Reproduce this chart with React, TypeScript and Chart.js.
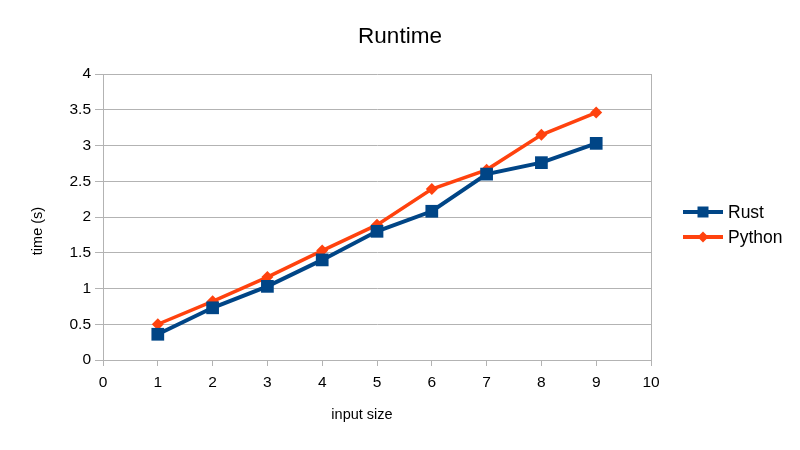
import React, { useEffect, useRef } from "react";
import { Chart, registerables } from "chart.js";

Chart.register(...registerables);

const inputSizes = [1, 2, 3, 4, 5, 6, 7, 8, 9];
const rustTimes = [0.36, 0.73, 1.03, 1.4, 1.8, 2.08, 2.6, 2.76, 3.03];
const pythonTimes = [0.5, 0.82, 1.16, 1.53, 1.89, 2.39, 2.66, 3.15, 3.46];
const seriesNames = ["Rust", "Python"];
const chartTitle = "Runtime";
const xTitle = "input size";
const yTitle = "time (s)";

const RUST_COLOR = "#004586";
const PY_COLOR = "#ff420e";
const GRID = "#b3b3b3";
const FONT = "'Liberation Sans', Arial, sans-serif";

const overlayPlugin = {
  id: "overlay",
  afterDraw(chart: any) {
    const ctx = chart.ctx;
    ctx.save();
    ctx.fillStyle = "#000";
    // Title
    ctx.font = `22.5px ${FONT}`;
    ctx.textAlign = "center";
    ctx.textBaseline = "middle";
    ctx.fillText(chartTitle, 400, 37);
    // X title
    ctx.font = `14.5px ${FONT}`;
    ctx.fillText(xTitle, 362, 415);
    // Y title
    ctx.save();
    ctx.translate(38, 231);
    ctx.rotate(-Math.PI / 2);
    ctx.fillText(yTitle, 0, 0);
    ctx.restore();
    // Legend
    const items = [
      { name: seriesNames[0], color: RUST_COLOR, style: "rect", r: 7.5, y: 212 },
      { name: seriesNames[1], color: PY_COLOR, style: "rectRot", r: 5.5, y: 237 },
    ];
    ctx.font = `17.5px ${FONT}`;
    ctx.textAlign = "left";
    for (const it of items) {
      ctx.strokeStyle = it.color;
      ctx.lineWidth = 4;
      ctx.beginPath();
      ctx.moveTo(683, it.y);
      ctx.lineTo(723, it.y);
      ctx.stroke();
      ctx.fillStyle = it.color;
      ctx.beginPath();
      if (it.style === "rect") {
        ctx.rect(703 - 5.5, it.y - 5.5, 11, 11);
      } else {
        ctx.moveTo(703, it.y - it.r);
        ctx.lineTo(703 + it.r, it.y);
        ctx.lineTo(703, it.y + it.r);
        ctx.lineTo(703 - it.r, it.y);
        ctx.closePath();
      }
      ctx.fill();
      ctx.fillStyle = "#000";
      ctx.fillText(it.name, 728, it.y + 1);
    }
    ctx.restore();
  },
};

export default function App() {
  const ref = useRef<HTMLCanvasElement | null>(null);
  useEffect(() => {
    if (!ref.current) return;
    const chart = new Chart(ref.current, {
      type: "line",
      data: {
        datasets: [
          {
            label: seriesNames[0],
            data: inputSizes.map((x, i) => ({ x, y: rustTimes[i] })),
            borderColor: RUST_COLOR,
            backgroundColor: RUST_COLOR,
            borderWidth: 4,
            pointStyle: "rect",
            pointRadius: 9,
            pointBorderWidth: 0,
            pointHoverRadius: 9,
            tension: 0,
          },
          {
            label: seriesNames[1],
            data: inputSizes.map((x, i) => ({ x, y: pythonTimes[i] })),
            borderColor: PY_COLOR,
            backgroundColor: PY_COLOR,
            borderWidth: 3.5,
            pointStyle: "rectRot",
            pointRadius: 6,
            pointBorderWidth: 0,
            pointHoverRadius: 6,
            tension: 0,
          },
        ],
      },
      options: {
        animation: false,
        responsive: false,
        layout: { padding: { top: 74, right: 149, left: 0, bottom: 0 } },
        plugins: {
          legend: { display: false },
          title: { display: false },
          tooltip: { enabled: false },
        },
        scales: {
          x: {
            type: "linear",
            min: 0,
            max: 10,
            ticks: {
              stepSize: 1,
              color: "#000",
              font: { family: FONT, size: 15.5 },
              padding: 7,
              maxRotation: 0,
            },
            grid: {
              color: (c: any) =>
                c.index === 0 || c.tick?.value === 10 ? GRID : "rgba(0,0,0,0)",
              tickColor: GRID,
              tickLength: 6,
              lineWidth: 1,
            },
            border: { display: true, color: GRID },
            afterFit: (s: any) => {
              s.height = 90;
            },
          },
          y: {
            type: "linear",
            min: 0,
            max: 4,
            ticks: {
              stepSize: 0.5,
              color: "#000",
              font: { family: FONT, size: 15.5 },
              padding: 4,
              callback: (v: any) => String(v),
            },
            grid: {
              color: GRID,
              tickColor: GRID,
              tickLength: 8,
              lineWidth: 1,
            },
            border: { display: true, color: GRID },
            afterFit: (s: any) => {
              s.width = 103;
            },
          },
        },
      },
      plugins: [overlayPlugin],
    });
    return () => chart.destroy();
  }, []);
  return (
    <div style={{ position: "fixed", left: 0, top: 0, width: 800, height: 450, background: "#fff" }}>
      <canvas ref={ref} width={800} height={450} />
    </div>
  );
}
